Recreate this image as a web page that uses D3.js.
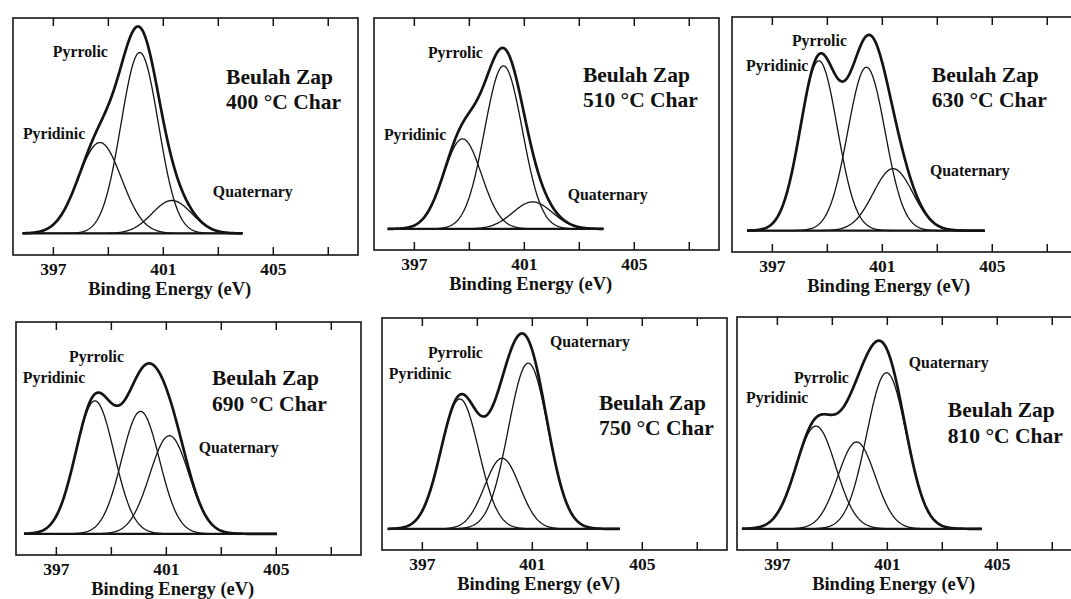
<!DOCTYPE html>
<html>
<head>
<meta charset="utf-8">
<script src="https://cdn.jsdelivr.net/npm/d3@7"></script>
<style>
  body { margin: 0; background: #fff; }
  svg { display: block; }
  text { font-family: "Liberation Serif", "Times New Roman", serif; font-weight: bold; fill: #111; }
</style>
</head>
<body>
<svg id="chart" width="1071" height="599"></svg>
<script>
// N 1s XPS curve fits of Beulah Zap chars: three nitrogen components per char temperature
const charTemps = [400, 510, 630, 690, 750, 810];
const componentNames = ["Pyridinic", "Pyrrolic", "Quaternary"];

// Fitted peak centres (eV), peak heights (arb. units) and FWHM (eV) for each char
const peakCenters = [
  [398.71, 400.16, 401.33],
  [398.77, 400.26, 401.32],
  [398.71, 400.44, 401.41],
  [398.42, 400.08, 401.13],
  [398.38, 399.92, 400.87],
  [398.42, 399.90, 400.99]
];
const peakHeights = [
  [42.2, 84.0, 15.3],
  [42.7, 77.3, 12.8],
  [79.5, 76.5, 29.0],
  [62.8, 57.8, 46.3],
  [61.6, 33.5, 78.6],
  [48.5, 41.0, 73.7]
];
const peakFwhm = [
  [1.85, 1.60, 1.70],
  [1.62, 1.62, 1.70],
  [1.58, 1.60, 1.70],
  [1.65, 1.62, 1.68],
  [1.62, 1.50, 1.70],
  [1.70, 1.60, 1.70]
];
// Energy window of each recorded scan (eV)
const scanStart = [395.90, 396.05, 396.10, 395.84, 395.76, 395.73];
const scanEnd   = [403.90, 403.90, 404.75, 405.04, 404.20, 404.45];

const tickValues = [397, 399, 401, 403, 405, 407];
const tickLabels = ["397", "", "401", "", "405", ""];
const axisTitle = "Binding Energy (eV)";

// ---- layout ----
const svg = d3.select("#chart");
const frameWidth = 345;
const xDomain = [395.55, 408.1];
const yDomain = [-10, 100];
const frames = [
  { left: 13,  top: 18,  bottom: 255 },
  { left: 374, top: 18,  bottom: 250 },
  { left: 732, top: 17,  bottom: 252 },
  { left: 16,  top: 322, bottom: 555 },
  { left: 382, top: 318, bottom: 550 },
  { left: 737, top: 317, bottom: 550 }
];
// label anchors in data coordinates [energy, intensity]
const labelSpots = [
  { Pyridinic: [395.91, 43.9], Pyrrolic: [397.00, 81.9], Quaternary: [402.82, 16.9], title: [403.30, 69.4, 57.8] },
  { Pyridinic: [395.91, 42.2], Pyrrolic: [397.51, 81.0], Quaternary: [402.60, 13.7], title: [403.15, 69.7, 57.8] },
  { Pyridinic: [396.06, 74.7], Pyrrolic: [397.73, 86.4], Quaternary: [402.75, 25.6], title: [402.82, 69.6, 57.9] },
  { Pyridinic: [395.80, 71.2], Pyrrolic: [397.48, 81.1], Quaternary: [402.20, 38.1], title: [402.68, 70.3, 58.0] },
  { Pyridinic: [395.80, 71.1], Pyrrolic: [397.22, 81.0], Quaternary: [401.66, 86.2], title: [403.44, 56.4, 44.5] },
  { Pyridinic: [395.88, 59.4], Pyrrolic: [397.62, 68.8], Quaternary: [401.80, 75.9], title: [403.22, 52.8, 40.5] }
];

const ink = "#141414";

function gaussian(e, c, h, fwhm) {
  const s = fwhm / 2.3548;
  return h * Math.exp(-((e - c) * (e - c)) / (2 * s * s));
}

charTemps.forEach((temp, i) => {
  const f = frames[i];
  const x = d3.scaleLinear().domain(xDomain).range([f.left, f.left + frameWidth]);
  const y = d3.scaleLinear().domain(yDomain).range([f.bottom, f.top]);
  const g = svg.append("g");

  // frame
  g.append("rect")
    .attr("x", x(xDomain[0])).attr("y", y(yDomain[1]))
    .attr("width", x(xDomain[1]) - x(xDomain[0]))
    .attr("height", y(yDomain[0]) - y(yDomain[1]))
    .attr("fill", "none").attr("stroke", ink).attr("stroke-width", 1.6);

  // inward ticks, bottom (with labels) and top
  const bottomAxis = g.append("g")
    .attr("transform", `translate(0,${y(yDomain[0])})`)
    .call(d3.axisBottom(x).tickValues(tickValues).tickSize(-8).tickPadding(7.6)
      .tickFormat((d, k) => tickLabels[k]));
  const topAxis = g.append("g")
    .attr("transform", `translate(0,${y(yDomain[1])})`)
    .call(d3.axisTop(x).tickValues(tickValues).tickSize(-8).tickFormat(""));
  [bottomAxis, topAxis].forEach(a => {
    a.select(".domain").remove();
    a.selectAll(".tick line").attr("stroke", ink).attr("stroke-width", 1.5);
  });
  bottomAxis.selectAll(".tick text")
    .attr("font-family", "Liberation Serif, Times New Roman, serif")
    .attr("font-weight", "bold").attr("font-size", 17.5).attr("fill", ink);

  g.append("text")
    .attr("x", x(401.25)).attr("y", y(yDomain[0]) + 40)
    .attr("text-anchor", "middle").attr("font-size", 18)
    .attr("textLength", 163).attr("lengthAdjust", "spacingAndGlyphs")
    .text(axisTitle);

  // curves
  const energies = d3.range(scanStart[i], scanEnd[i] + 1e-9, 0.02);
  const line = d3.line().x(d => x(d[0])).y(d => y(d[1])).curve(d3.curveLinear);

  // baseline
  g.append("path")
    .attr("d", line([[scanStart[i], 0], [scanEnd[i], 0]]))
    .attr("fill", "none").attr("stroke", ink).attr("stroke-width", 2.2);

  componentNames.forEach((name, k) => {
    const pts = energies.map(e => [e, gaussian(e, peakCenters[i][k], peakHeights[i][k], peakFwhm[i][k])]);
    g.append("path")
      .attr("d", line(pts))
      .attr("fill", "none").attr("stroke", ink).attr("stroke-width", 1.3);
  });

  const total = energies.map(e => [e, d3.sum(componentNames, (n, k) =>
    gaussian(e, peakCenters[i][k], peakHeights[i][k], peakFwhm[i][k]))]);
  g.append("path")
    .attr("d", line(total))
    .attr("fill", "none").attr("stroke", ink).attr("stroke-width", 2.7)
    .attr("stroke-linejoin", "round");

  // component labels
  const spots = labelSpots[i];
  componentNames.forEach(name => {
    g.append("text")
      .attr("x", x(spots[name][0])).attr("y", y(spots[name][1]))
      .attr("font-size", 15.8)
      .text(name);
  });

  // sample title
  g.append("text")
    .attr("x", x(spots.title[0])).attr("y", y(spots.title[1]))
    .attr("font-size", 21.5).text("Beulah Zap");
  g.append("text")
    .attr("x", x(spots.title[0])).attr("y", y(spots.title[2]))
    .attr("font-size", 21.5).text(`${temp} °C Char`);
});
</script>
</body>
</html>
